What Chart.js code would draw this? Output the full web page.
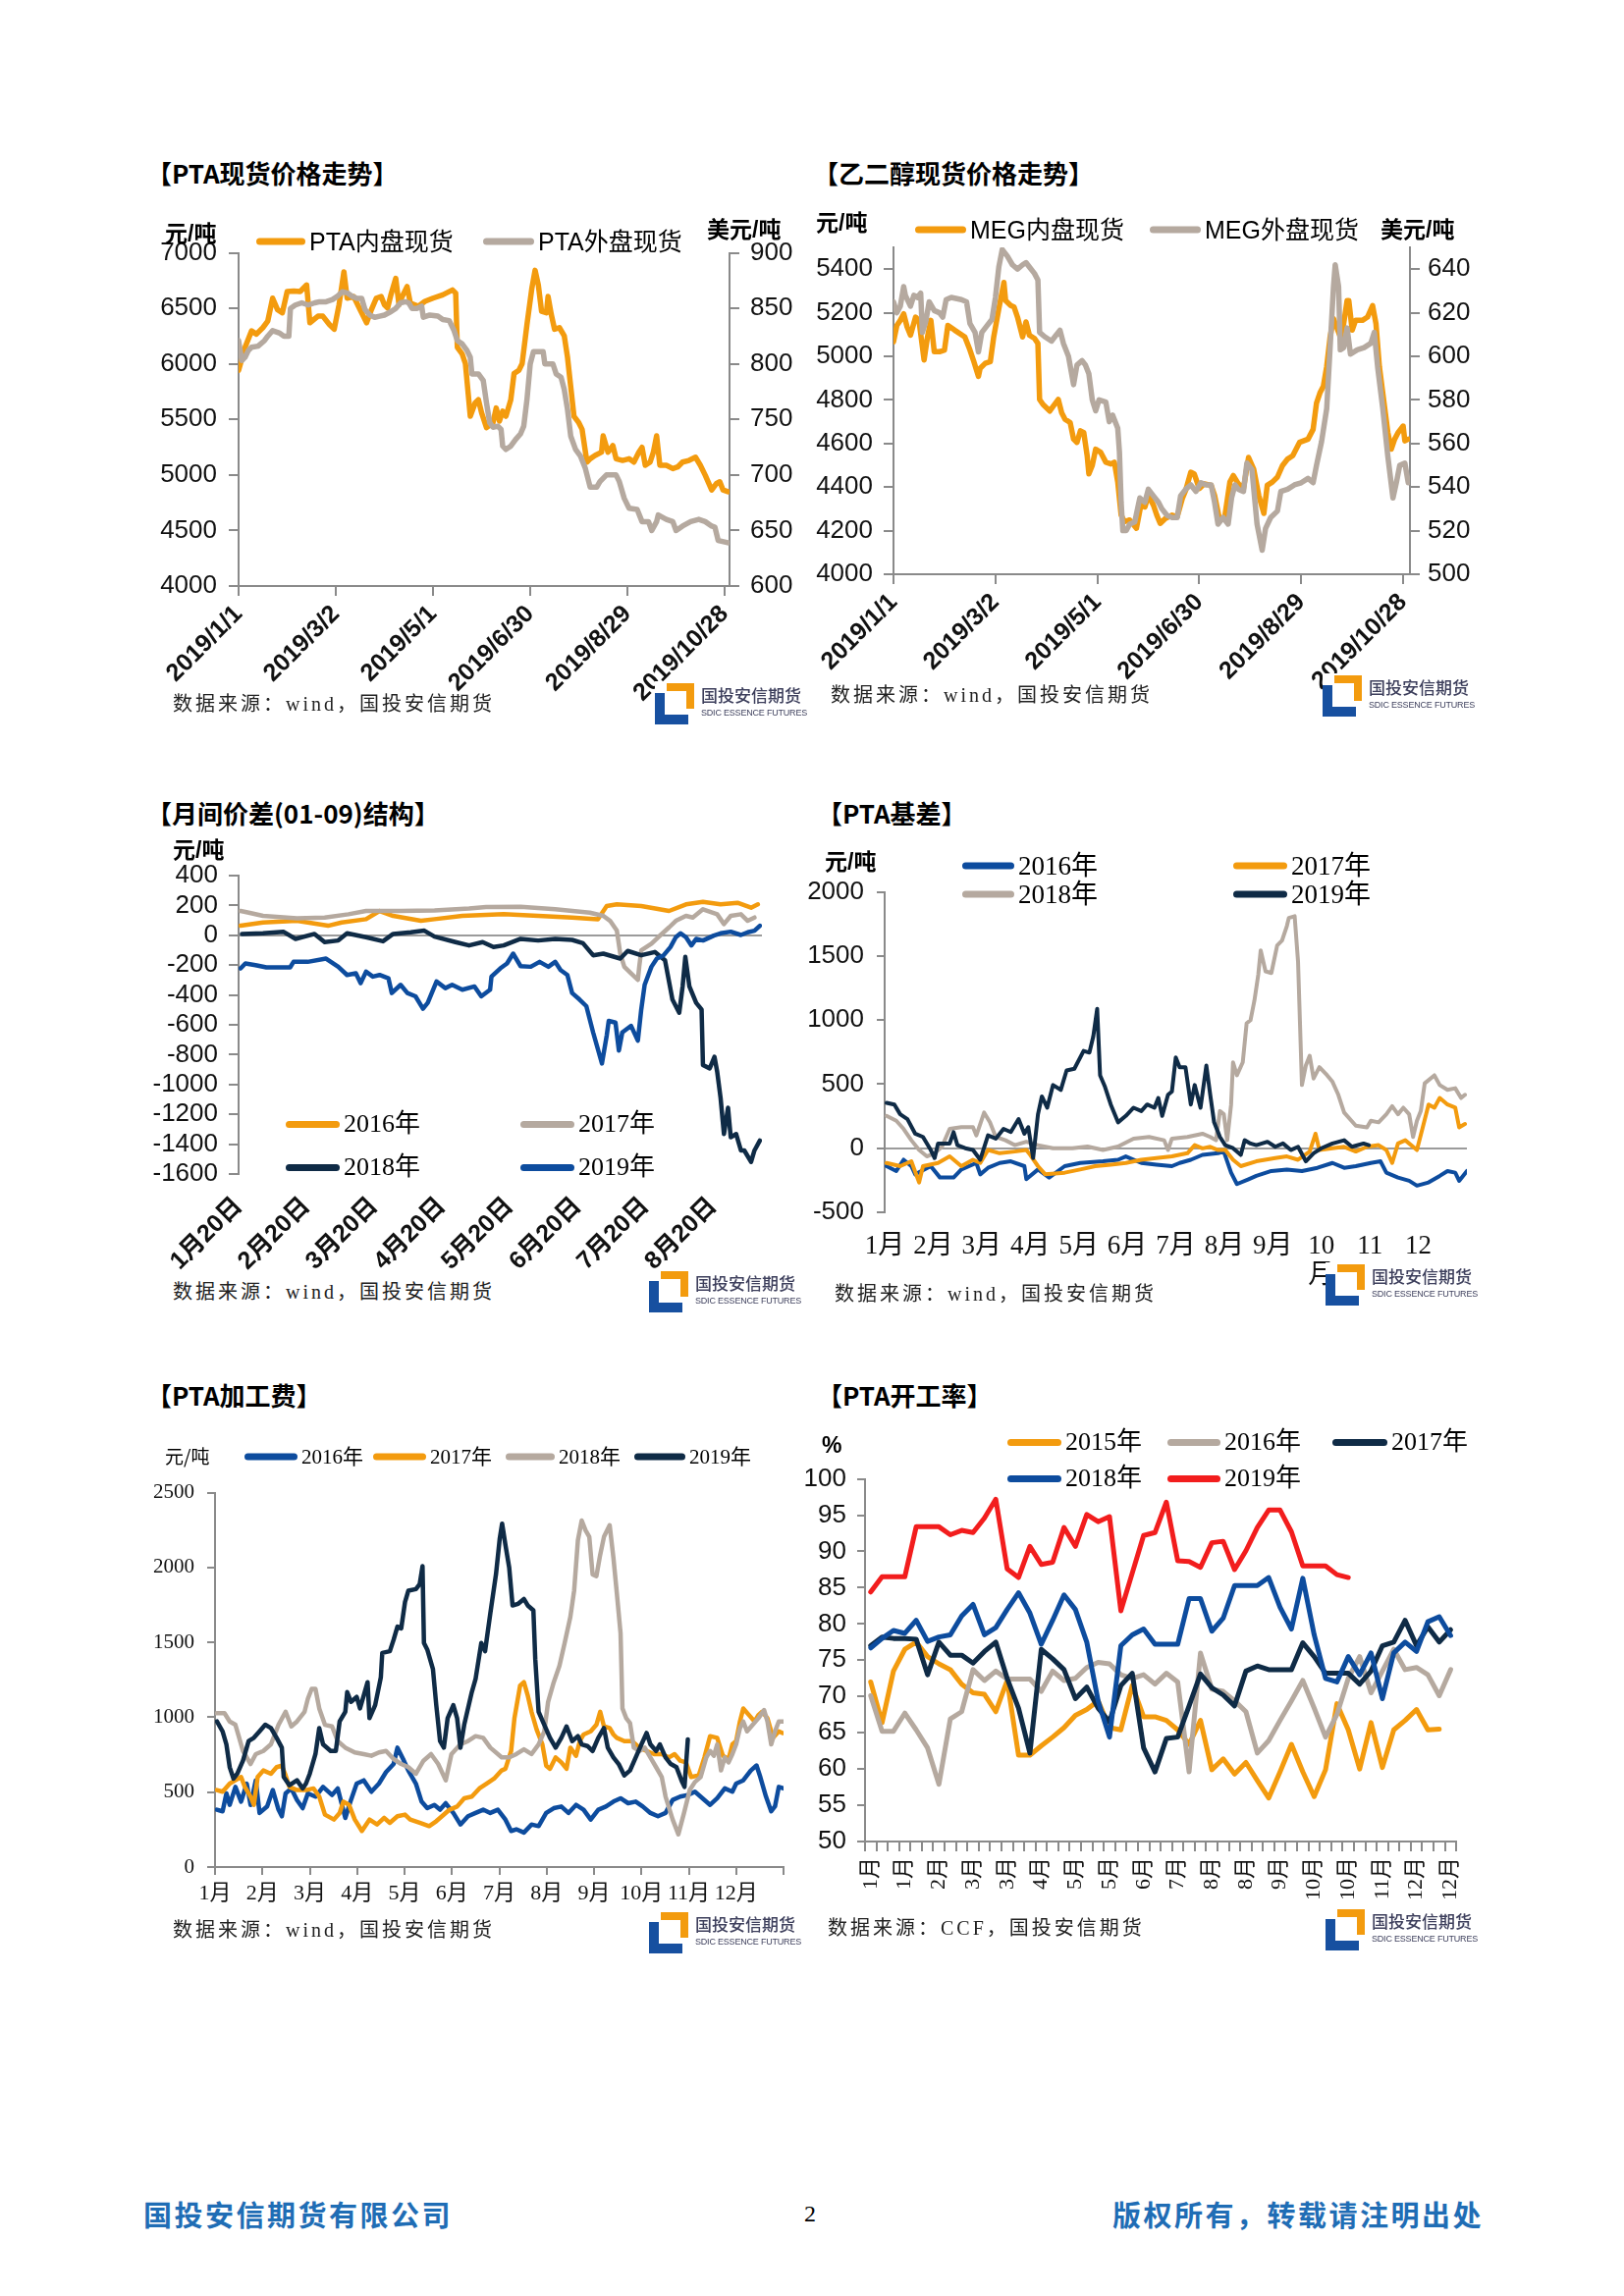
<!DOCTYPE html>
<html><head><meta charset="utf-8">
<script src="https://cdn.jsdelivr.net/npm/chart.js@4.4.1/dist/chart.umd.min.js"></script>
<style>
html,body{margin:0;padding:0;background:#fff;}
#page{position:relative;width:1654px;height:2339px;overflow:hidden;background:#fff;}
canvas{position:absolute;}
.t{position:absolute;white-space:nowrap;line-height:1;transform:translateY(-50%);color:#000;}
.title{font-family:'Noto Sans CJK SC',sans-serif;font-weight:700;font-size:26px;}
.unit{font-family:'Liberation Sans','Noto Sans CJK SC',sans-serif;font-weight:700;font-size:23px;}
.src{font-family:'Liberation Serif','Noto Sans CJK SC',serif;font-size:20px;letter-spacing:3px;color:#222;}
.lg{position:absolute;white-space:nowrap;line-height:1;transform:translateY(-50%);display:flex;align-items:center;color:#000;}
.lg i{display:inline-block;height:7px;border-radius:4px;margin-right:4px;}
.lgs{font-family:'Liberation Sans','Noto Sans CJK SC',sans-serif;font-size:25px;}
.lgr{font-family:'Liberation Serif','Noto Sans CJK SC',serif;}
.logo{position:absolute;width:148px;height:44px;background:#fff;}
.logo .lb{position:absolute;left:0;top:12px;width:24px;height:22px;border-left:10px solid #1750A0;border-bottom:10px solid #1750A0;}
.logo .lo{position:absolute;left:12px;top:2px;width:20px;height:18px;border-top:8px solid #F39B0E;border-right:8px solid #F39B0E;}
.logo .lcn{position:absolute;left:47px;top:5px;font-family:'Noto Sans CJK SC',sans-serif;font-weight:500;font-size:17px;line-height:1;color:#3d3f5c;white-space:nowrap;}
.logo .len{position:absolute;left:47px;top:28px;font-family:'Liberation Sans Narrow','Liberation Sans',sans-serif;font-size:9px;line-height:1;color:#3d3f5c;white-space:nowrap;letter-spacing:-0.2px;}
.foot{font-family:'Noto Sans CJK SC',sans-serif;font-weight:700;font-size:29px;letter-spacing:2.5px;color:#1f6db5;}
</style>
</head>
<body><div id="page">
<canvas id="c1" width="680" height="490" style="left:149px;top:230px"></canvas>
<canvas id="c2" width="672" height="495" style="left:828px;top:225px"></canvas>
<canvas id="c3" width="640" height="435" style="left:149px;top:865px"></canvas>
<canvas id="c4" width="693" height="440" style="left:815px;top:880px"></canvas>
<canvas id="c5" width="660" height="470" style="left:149px;top:1495px"></canvas>
<canvas id="c6" width="700" height="475" style="left:810px;top:1480px"></canvas>

<!-- chart 1 texts -->
<div class="t title" style="left:149px;top:176px">【PTA现货价格走势】</div>
<div class="t unit" style="left:168px;top:238px">元/吨</div>
<div class="t unit" style="left:720px;top:234px">美元/吨</div>
<div class="lg lgs" style="left:261px;top:246px"><i style="width:50px;background:#F39B0E"></i>PTA内盘现货</div>
<div class="lg lgs" style="left:492px;top:246px"><i style="width:52px;background:#B5A99F"></i>PTA外盘现货</div>
<div class="t src" style="left:176px;top:717px">数据来源：wind，国投安信期货</div>
<div class="logo" style="left:667px;top:694px"><div class="lb"></div><div class="lo"></div><div class="lcn">国投安信期货</div><div class="len">SDIC ESSENCE FUTURES</div></div>

<!-- chart 2 texts -->
<div class="t title" style="left:828px;top:176px">【乙二醇现货价格走势】</div>
<div class="t unit" style="left:831px;top:227px">元/吨</div>
<div class="t unit" style="left:1406px;top:234px">美元/吨</div>
<div class="lg lgs" style="left:932px;top:234px"><i style="width:52px;background:#F39B0E"></i>MEG内盘现货</div>
<div class="lg lgs" style="left:1171px;top:234px"><i style="width:52px;background:#B5A99F"></i>MEG外盘现货</div>
<div class="t src" style="left:846px;top:708px">数据来源：wind，国投安信期货</div>
<div class="logo" style="left:1347px;top:686px"><div class="lb"></div><div class="lo"></div><div class="lcn">国投安信期货</div><div class="len">SDIC ESSENCE FUTURES</div></div>

<!-- chart 3 texts -->
<div class="t title" style="left:149px;top:828px">【月间价差(01-09)结构】</div>
<div class="t unit" style="left:176px;top:866px">元/吨</div>
<div class="lg lgr" style="left:291px;top:1145px;font-size:26px"><i style="width:55px;background:#F39B0E"></i>2016年</div>
<div class="lg lgr" style="left:530px;top:1145px;font-size:26px"><i style="width:55px;background:#B5A99F"></i>2017年</div>
<div class="lg lgr" style="left:291px;top:1189px;font-size:26px"><i style="width:55px;background:#0F2B46"></i>2018年</div>
<div class="lg lgr" style="left:530px;top:1189px;font-size:26px"><i style="width:55px;background:#0D4C9E"></i>2019年</div>
<div class="t src" style="left:176px;top:1316px">数据来源：wind，国投安信期货</div>
<div class="logo" style="left:661px;top:1293px"><div class="lb"></div><div class="lo"></div><div class="lcn">国投安信期货</div><div class="len">SDIC ESSENCE FUTURES</div></div>

<!-- chart 4 texts -->
<div class="t title" style="left:832px;top:828px">【PTA基差】</div>
<div class="t unit" style="left:840px;top:878px">元/吨</div>
<div class="lg lgr" style="left:980px;top:882px;font-size:27px"><i style="width:53px;background:#0D4C9E"></i>2016年</div>
<div class="lg lgr" style="left:1256px;top:882px;font-size:27px"><i style="width:55px;background:#F39B0E"></i>2017年</div>
<div class="lg lgr" style="left:980px;top:911px;font-size:27px"><i style="width:53px;background:#B5A99F"></i>2018年</div>
<div class="lg lgr" style="left:1256px;top:911px;font-size:27px"><i style="width:55px;background:#0F2B46"></i>2019年</div>
<div class="t src" style="left:850px;top:1318px">数据来源：wind，国投安信期货</div>
<div class="logo" style="left:1350px;top:1286px"><div class="lb"></div><div class="lo"></div><div class="lcn">国投安信期货</div><div class="len">SDIC ESSENCE FUTURES</div></div>

<!-- chart 5 texts -->
<div class="t title" style="left:149px;top:1421px">【PTA加工费】</div>
<div class="t" style="left:168px;top:1482px;font-family:'Noto Sans CJK SC',sans-serif;font-size:19px">元/吨</div>
<div class="lg lgr" style="left:249px;top:1484px;font-size:21px"><i style="width:54px;background:#0D4C9E"></i>2016年</div>
<div class="lg lgr" style="left:380px;top:1484px;font-size:21px"><i style="width:54px;background:#F39B0E"></i>2017年</div>
<div class="lg lgr" style="left:515px;top:1484px;font-size:21px"><i style="width:50px;background:#B5A99F"></i>2018年</div>
<div class="lg lgr" style="left:646px;top:1484px;font-size:21px"><i style="width:52px;background:#0F2B46"></i>2019年</div>
<div class="t src" style="left:176px;top:1966px">数据来源：wind，国投安信期货</div>
<div class="logo" style="left:661px;top:1946px"><div class="lb"></div><div class="lo"></div><div class="lcn">国投安信期货</div><div class="len">SDIC ESSENCE FUTURES</div></div>

<!-- chart 6 texts -->
<div class="t title" style="left:832px;top:1421px">【PTA开工率】</div>
<div class="t unit" style="left:837px;top:1472px">%</div>
<div class="lg lgr" style="left:1026px;top:1469px;font-size:26px"><i style="width:55px;background:#F39B0E"></i>2015年</div>
<div class="lg lgr" style="left:1189px;top:1469px;font-size:26px"><i style="width:54px;background:#B5A99F"></i>2016年</div>
<div class="lg lgr" style="left:1357px;top:1469px;font-size:26px"><i style="width:56px;background:#0F2B46"></i>2017年</div>
<div class="lg lgr" style="left:1026px;top:1506px;font-size:26px"><i style="width:55px;background:#0D4C9E"></i>2018年</div>
<div class="lg lgr" style="left:1189px;top:1506px;font-size:26px"><i style="width:54px;background:#F21D1D"></i>2019年</div>
<div class="t src" style="left:843px;top:1964px">数据来源：CCF，国投安信期货</div>
<div class="logo" style="left:1350px;top:1943px"><div class="lb"></div><div class="lo"></div><div class="lcn">国投安信期货</div><div class="len">SDIC ESSENCE FUTURES</div></div>

<!-- footer -->
<div class="t foot" style="left:146px;top:2255px">国投安信期货有限公司</div>
<div class="t" style="left:819px;top:2255px;font-family:'Liberation Serif',serif;font-size:24px">2</div>
<div class="t foot" style="right:143px;top:2255px">版权所有，转载请注明出处</div>
</div>
<script>
// ---------- Chart 1: PTA spot price (days since 2019/1/1) ----------
const ptaTickDays = [0,60,120,180,240,300];
const ptaDateLabels = ['2019/1/1','2019/3/2','2019/5/1','2019/6/30','2019/8/29','2019/10/28'];
const ptaDomX = [0,4,8,11,15,18,21,24,27,30,34,38,42,44,49,52,56,59,62,65,67,71,75,79,82,85,88,90,92,94,97,99,101,104,106,111,115,120,126,132,134,135,138,140,143,146,148,150,153,157,159,161,163,165,168,170,173,175,178,181,183,185,187,190,191,193,195,198,201,203,205,207,210,212,215,217,220,224,225,228,231,233,237,241,244,247,249,251,254,256,258,260,264,268,271,274,278,282,285,288,292,295,297,299,302];
const ptaDomY = [5943,6150,6297,6268,6327,6386,6592,6489,6460,6652,6657,6652,6711,6371,6430,6430,6356,6312,6533,6829,6592,6607,6489,6371,6489,6592,6607,6533,6504,6622,6770,6533,6607,6696,6548,6519,6563,6592,6622,6666,6637,6150,6090,6002,5529,5648,5677,5559,5426,5470,5603,5485,5574,5529,5677,5913,5943,6002,6356,6681,6843,6711,6474,6460,6607,6445,6312,6327,6253,6061,5795,5529,5470,5411,5116,5146,5175,5205,5352,5205,5264,5146,5131,5146,5116,5205,5249,5087,5116,5205,5352,5087,5087,5057,5072,5116,5131,5160,5087,4998,4865,4924,4939,4865,4850];
const ptaFgnX = [0,2,4,6,8,12,16,18,21,25,28,31,32,35,39,43,47,50,54,58,61,64,67,70,73,76,78,81,84,87,90,94,97,100,103,105,107,110,113,114,118,123,126,130,133,135,138,141,143,144,148,151,153,155,157,160,162,163,165,168,171,174,176,178,180,182,188,189,194,196,199,201,203,205,208,211,214,217,221,223,227,233,235,238,241,246,249,253,255,258,259,264,268,270,274,279,284,288,292,294,296,302];
const ptaFgnY = [821,803,806,812,815,816,821,825,830,828,825,825,850,853,855,853,855,856,856,858,861,865,864,861,859,859,849,844,842,843,844,847,850,855,856,855,850,850,852,842,844,843,840,839,830,821,818,812,806,791,791,785,765,747,743,744,741,726,723,726,732,737,744,768,800,811,811,800,800,791,788,777,759,735,723,717,706,689,689,694,700,700,694,679,670,669,658,658,650,658,664,660,658,650,654,658,660,658,654,653,641,639];

// ---------- Chart 2: MEG spot price (days since 2019/1/1) ----------
const megTickDays = [0,60,120,180,240,300];
const megDateLabels = ['2019/1/1','2019/3/2','2019/5/1','2019/6/30','2019/8/29','2019/10/28'];
const megDomX = [0,2,4,6,8,10,13,15,17,18,20,22,24,27,30,32,36,42,45,47,50,51,54,57,59,62,65,66,69,71,73,76,78,80,83,85,86,88,92,94,97,99,101,104,106,108,110,112,114,115,117,119,122,125,128,130,132,134,136,139,143,146,148,150,153,155,157,160,164,167,170,172,175,177,180,183,187,189,192,195,198,200,203,206,209,212,215,218,220,223,226,229,232,235,237,239,244,247,249,251,253,255,257,259,263,265,267,268,270,272,276,279,282,284,286,288,291,293,295,297,300,301,303];
const megDomY = [5067,5142,5165,5195,5135,5097,5180,5165,5044,4983,5089,5165,5021,5021,5029,5142,5120,5089,5029,4983,4908,4945,4968,4976,5089,5218,5339,5256,5233,5226,5180,5089,5158,5097,5082,5059,4802,4779,4749,4771,4802,4741,4711,4696,4620,4605,4658,4650,4544,4461,4499,4574,4559,4514,4506,4514,4423,4271,4241,4249,4211,4332,4309,4362,4317,4271,4233,4256,4271,4264,4347,4385,4468,4461,4393,4415,4408,4362,4249,4264,4423,4453,4415,4393,4536,4483,4362,4279,4408,4423,4446,4499,4529,4544,4574,4605,4620,4665,4786,4832,4862,4953,5089,5173,5089,5150,5256,5256,5120,5165,5165,5180,5233,5150,4953,4832,4650,4574,4620,4650,4680,4612,4620];
const megFgnX = [0,2,4,6,7,10,12,14,16,17,19,21,24,27,29,31,34,40,43,45,48,50,52,55,58,60,62,64,67,70,73,76,78,80,83,85,86,89,93,95,98,100,103,106,108,111,113,115,117,119,121,125,127,129,132,133,134,135,137,139,142,145,148,150,153,156,158,161,164,167,169,172,175,178,181,184,187,189,191,194,197,199,201,203,206,208,211,214,217,219,222,226,228,232,236,240,244,247,249,252,255,257,259,260,262,263,265,267,269,273,277,281,283,285,288,291,294,296,298,301,303];
const megFgnY = [625,620,623,632,628,623,628,627,629,611,616,625,621,620,618,626,627,626,625,615,611,602,611,614,617,627,641,649,646,642,640,642,643,641,638,635,611,609,607,609,612,606,600,587,596,598,596,592,580,575,580,579,570,573,567,556,533,520,520,523,524,535,533,539,536,533,530,527,526,526,536,539,541,538,542,541,541,533,523,526,523,535,541,539,538,551,548,523,511,521,526,529,538,539,541,542,544,542,550,561,576,604,632,642,632,603,604,613,601,603,604,606,611,595,576,554,535,542,550,551,542];

// ---------- Chart 3: 01-09 spread (months after 1/20) ----------
const spTickMonths = [0,1,2,3,4,5,6,7];
const spMonthLabels = ['1月20日','2月20日','3月20日','4月20日','5月20日','6月20日','7月20日','8月20日'];
const sp16X = [0.03,0.36,0.86,1.32,1.52,1.88,2.08,2.28,2.69,2.89,3.30,3.91,4.42,4.92,5.30,5.43,5.58,5.94,6.35,6.60,6.85,7.11,7.36,7.56,7.66];
const sp16Y = [64,86,97,64,86,108,163,130,97,108,130,141,130,119,108,196,207,196,163,207,224,207,218,185,207];
const sp17X = [0.03,0.15,0.36,0.86,1.27,1.62,1.88,2.39,2.89,3.40,3.65,4.16,4.67,5.18,5.38,5.48,5.58,5.63,5.69,5.79,5.89,5.91,5.94,6.09,6.19,6.35,6.45,6.60,6.70,6.85,7.06,7.16,7.26,7.41,7.51,7.61];
const sp17Y = [163,152,130,114,119,141,163,163,167,180,189,191,174,152,130,97,31,-123,-211,-255,-299,-211,-101,-57,-13,53,97,130,119,174,141,75,130,141,97,119];
const sp18X = [0.05,0.36,0.66,0.84,1.12,1.27,1.47,1.60,1.88,2.13,2.28,2.54,2.74,2.89,3.20,3.40,3.60,3.76,3.91,4.16,4.42,4.67,4.92,5.08,5.23,5.38,5.63,5.74,5.94,6.14,6.29,6.40,6.50,6.55,6.59,6.65,6.75,6.83,6.85,6.95,7.02,7.06,7.11,7.16,7.22,7.26,7.34,7.41,7.46,7.56,7.61,7.69];
const sp18Y = [9,13,24,-24,9,-46,-35,13,-13,-40,9,20,31,-9,-46,-68,-46,-79,-68,-24,-35,-24,-31,-53,-134,-123,-156,-105,-134,-112,-167,-431,-519,-343,-145,-343,-453,-497,-870,-892,-815,-914,-1090,-1332,-1156,-1354,-1332,-1442,-1442,-1519,-1442,-1376];
const sp19X = [0.03,0.10,0.25,0.41,0.76,0.81,1.02,1.29,1.47,1.60,1.73,1.80,1.88,1.98,2.08,2.21,2.26,2.39,2.49,2.61,2.72,2.79,2.92,3.05,3.15,3.30,3.48,3.58,3.71,3.73,3.86,3.96,4.05,4.16,4.31,4.44,4.57,4.67,4.75,4.85,4.92,5.03,5.13,5.23,5.36,5.43,5.46,5.56,5.61,5.66,5.79,5.89,5.94,5.99,6.09,6.17,6.27,6.37,6.45,6.52,6.60,6.68,6.75,6.85,7.01,7.11,7.26,7.41,7.51,7.61,7.69];
const sp19Y = [-222,-189,-200,-215,-215,-178,-178,-156,-211,-266,-255,-321,-244,-277,-266,-288,-387,-332,-387,-409,-492,-453,-310,-354,-332,-365,-343,-409,-365,-277,-222,-189,-123,-207,-211,-178,-211,-178,-233,-266,-387,-431,-475,-651,-859,-673,-574,-585,-772,-651,-607,-706,-497,-332,-211,-156,-134,-79,-13,13,-13,-68,-24,-35,-2,13,24,2,20,31,64];

// ---------- Chart 4: PTA basis (months since Jan 1) ----------
const bsTickMonths = [0,1,2,3,4,5,6,7,8,9,10,11];
const bsMonthLabels = ['1月','2月','3月','4月','5月','6月','7月','8月','9月',['10','月'],'11','12'];
const bs16X = [0.04,0.24,0.39,0.55,0.63,0.95,1.14,1.42,1.58,1.89,1.97,2.13,2.37,2.60,2.88,2.92,3.16,3.39,3.71,4.03,4.50,4.81,4.97,5.29,5.60,5.92,6.08,6.31,6.55,6.87,6.99,7.14,7.26,7.50,7.66,7.97,8.29,8.60,8.92,9.23,9.47,9.71,10.02,10.22,10.34,10.58,10.81,10.97,11.21,11.44,11.60,11.76,11.84,12.0];
const bs16Y = [-140,-178,-90,-140,-204,-140,-229,-229,-166,-115,-204,-153,-115,-102,-140,-242,-166,-229,-140,-115,-102,-90,-64,-115,-128,-140,-115,-90,-52,-39,-26,-191,-280,-242,-216,-178,-166,-178,-153,-115,-153,-140,-115,-102,-191,-229,-254,-292,-267,-216,-178,-191,-254,-178];
const bs17X = [0.04,0.32,0.55,0.71,0.79,1.10,1.34,1.58,1.82,1.97,2.13,2.37,2.68,2.92,3.00,3.16,3.31,3.71,4.03,4.34,4.66,4.97,5.29,5.60,5.92,6.24,6.39,6.55,6.71,6.87,7.02,7.18,7.34,7.66,8.05,8.29,8.52,8.76,8.88,8.96,9.23,9.47,9.71,9.94,10.18,10.34,10.46,10.58,10.73,10.97,11.09,11.21,11.33,11.44,11.60,11.76,11.84,11.96];
const bs17Y = [-115,-140,-102,-267,-140,-115,-64,-140,-90,-115,-14,-39,-26,-14,-52,-140,-204,-191,-166,-140,-128,-115,-90,-77,-64,-39,24,-1,11,-14,-14,-90,-140,-102,-77,-64,-90,-26,113,-14,-1,11,-26,11,24,-14,-115,37,62,-14,163,341,316,392,341,316,163,189];
const bs18X = [0.04,0.24,0.39,0.55,0.71,0.87,1.03,1.18,1.34,1.58,1.82,1.89,2.05,2.17,2.29,2.49,2.68,2.92,3.16,3.47,3.87,4.18,4.50,4.81,5.13,5.45,5.76,5.84,5.92,6.24,6.55,6.71,6.83,6.91,6.99,7.06,7.14,7.18,7.26,7.38,7.46,7.54,7.62,7.70,7.75,7.85,7.97,8.09,8.19,8.29,8.33,8.45,8.52,8.60,8.68,8.76,8.84,8.96,9.12,9.23,9.35,9.47,9.71,9.94,10.02,10.18,10.34,10.46,10.58,10.69,10.81,10.89,10.97,11.05,11.13,11.33,11.44,11.60,11.76,11.88,11.96];
const bs18Y = [252,214,151,62,-14,-64,-39,11,151,164,164,100,278,202,88,62,24,50,24,0,0,13,-14,13,75,88,62,-14,75,88,113,88,62,290,265,62,341,670,569,670,974,999,1151,1354,1544,1380,1367,1582,1620,1734,1797,1810,1455,493,645,721,544,632,569,518,417,278,176,163,214,202,265,328,265,316,265,88,214,290,506,569,493,455,468,392,417];
const bs19X = [0.04,0.20,0.32,0.47,0.63,0.79,0.95,1.03,1.10,1.34,1.42,1.50,1.66,1.82,1.97,2.13,2.29,2.45,2.60,2.76,2.88,2.96,3.06,3.16,3.24,3.35,3.47,3.63,3.75,3.91,4.10,4.22,4.30,4.38,4.44,4.54,4.66,4.81,4.97,5.13,5.29,5.41,5.56,5.64,5.72,5.84,5.92,6.00,6.08,6.20,6.31,6.39,6.51,6.63,6.71,6.79,6.91,7.02,7.18,7.34,7.42,7.54,7.66,7.89,8.05,8.21,8.37,8.52,8.68,8.84,9.00,9.23,9.47,9.63,9.87,9.98];
const bs19Y = [354,341,265,227,113,88,-14,-77,37,37,126,24,0,-14,-90,100,75,151,126,227,113,164,-77,265,404,316,493,455,607,620,759,746,873,1088,569,480,341,202,252,316,290,341,316,392,252,417,442,708,632,632,341,493,316,645,417,202,88,24,0,-52,62,37,24,50,11,37,-14,11,-102,-39,0,37,62,11,37,24];

// ---------- Chart 5: PTA processing fee (months since Jan 1) ----------
const pfTickMonths = [0,1,2,3,4,5,6,7,8,9,10,11,12];
const pfMonthLabels = ['1月','2月','3月','4月','5月','6月','7月','8月','9月','10月','11月','12月',''];
const pf16X = [0.04,0.16,0.24,0.31,0.43,0.55,0.67,0.75,0.86,0.94,1.10,1.22,1.34,1.41,1.49,1.61,1.73,1.85,1.96,2.12,2.28,2.47,2.59,2.75,2.87,2.99,3.14,3.30,3.46,3.61,3.77,3.85,3.97,4.08,4.24,4.36,4.48,4.63,4.75,4.87,5.03,5.18,5.34,5.50,5.66,5.81,5.97,6.13,6.25,6.36,6.52,6.68,6.83,6.99,7.15,7.31,7.46,7.62,7.78,7.93,8.09,8.25,8.41,8.56,8.72,8.88,9.03,9.19,9.35,9.51,9.66,9.82,9.98,10.13,10.29,10.45,10.60,10.76,10.92,11.00,11.15,11.31,11.43,11.51,11.63,11.74,11.82,11.90,12.0];
const pf16Y = [383,372,492,415,535,437,557,415,579,361,405,514,383,339,492,525,448,393,492,470,535,481,525,328,448,557,579,503,557,634,688,797,721,645,557,437,393,415,383,426,361,284,339,361,383,361,383,317,241,252,230,284,273,361,393,404,361,415,383,317,383,404,437,459,426,437,404,361,339,361,448,470,481,503,459,415,459,525,503,557,579,645,678,601,470,372,405,535,525];
const pf17X = [0.04,0.16,0.31,0.43,0.55,0.63,0.75,0.82,0.90,1.02,1.18,1.30,1.41,1.49,1.57,1.73,1.92,2.08,2.20,2.32,2.51,2.63,2.71,2.83,2.95,3.10,3.26,3.42,3.57,3.69,3.85,4.01,4.12,4.32,4.52,4.67,4.79,4.95,5.11,5.26,5.42,5.58,5.73,5.89,6.05,6.13,6.25,6.32,6.44,6.52,6.60,6.68,6.79,6.91,6.99,7.07,7.19,7.31,7.42,7.50,7.62,7.70,7.78,7.93,8.05,8.13,8.21,8.33,8.41,8.48,8.64,8.80,8.96,9.11,9.27,9.43,9.58,9.70,9.82,9.94,10.05,10.21,10.33,10.45,10.60,10.72,10.84,10.92,11.00,11.08,11.15,11.27,11.39,11.47,11.55,11.66,11.78,11.90,11.98];
const pf17Y = [514,503,557,579,601,535,470,415,601,645,623,667,677,612,535,514,514,525,470,350,317,361,437,415,317,241,317,284,328,295,339,350,317,295,273,306,339,383,404,459,470,525,557,590,645,656,775,994,1212,1234,1147,1037,917,819,677,656,732,699,656,797,743,841,885,906,950,1037,939,928,885,863,841,841,797,775,754,754,732,754,710,699,601,612,732,874,863,743,721,819,841,972,1059,1015,972,1015,1037,994,863,906,895];
const pf18X = [0.04,0.20,0.31,0.43,0.51,0.59,0.67,0.75,0.86,1.02,1.18,1.34,1.49,1.61,1.73,1.89,1.96,2.04,2.12,2.20,2.32,2.47,2.59,2.75,2.95,3.14,3.30,3.46,3.61,3.77,3.93,4.08,4.24,4.40,4.56,4.71,4.87,4.99,5.18,5.34,5.50,5.66,5.81,6.05,6.21,6.36,6.52,6.68,6.83,6.95,7.03,7.15,7.27,7.38,7.50,7.58,7.66,7.74,7.82,7.90,7.97,8.05,8.13,8.21,8.33,8.41,8.48,8.56,8.60,8.68,8.76,8.84,8.96,9.07,9.19,9.31,9.43,9.51,9.66,9.78,9.90,10.02,10.13,10.25,10.37,10.45,10.53,10.60,10.68,10.76,10.84,10.92,11.00,11.08,11.15,11.23,11.35,11.47,11.59,11.66,11.74,11.82,11.90,12.0];
const pf18Y = [1027,1027,972,950,863,775,732,688,754,775,819,950,1037,939,972,1037,1124,1190,1190,1059,950,939,841,797,765,754,743,765,775,721,688,667,623,710,754,688,579,754,819,841,874,863,797,732,732,754,786,754,819,906,1102,1234,1343,1496,1670,1845,2183,2314,2249,2205,1954,1943,2085,2205,2282,2063,1834,1561,1059,994,961,797,775,797,732,667,601,470,317,219,361,514,568,601,732,775,743,819,645,732,699,754,819,928,972,906,950,994,1048,972,819,906,972,972];
const pf19X = [0.04,0.16,0.24,0.31,0.39,0.47,0.59,0.71,0.82,0.94,1.06,1.18,1.30,1.41,1.45,1.57,1.73,1.85,1.92,2.00,2.12,2.20,2.28,2.44,2.55,2.63,2.75,2.79,2.87,2.99,3.06,3.14,3.22,3.26,3.38,3.50,3.53,3.69,3.77,3.85,3.93,4.01,4.08,4.24,4.32,4.38,4.41,4.48,4.60,4.67,4.75,4.83,4.91,5.03,5.11,5.18,5.26,5.42,5.50,5.62,5.70,5.81,5.93,6.01,6.06,6.13,6.21,6.28,6.40,6.52,6.60,6.72,6.76,6.83,6.95,7.07,7.19,7.31,7.42,7.54,7.66,7.74,7.86,7.97,8.09,8.21,8.29,8.41,8.52,8.64,8.76,8.88,9.00,9.11,9.19,9.31,9.39,9.51,9.62,9.74,9.86,9.91,9.98];
const pf19Y = [972,906,819,666,590,623,710,841,863,906,950,928,863,797,601,546,579,525,557,623,754,928,819,775,775,972,1037,1168,1103,1136,1059,1147,1234,994,1081,1267,1430,1441,1518,1605,1594,1769,1845,1856,1889,2009,1496,1452,1321,1081,841,797,994,1081,994,797,950,1168,1256,1496,1441,1692,1954,2194,2293,2151,1998,1747,1758,1790,1747,1714,1387,1037,950,863,797,863,939,841,874,819,808,775,863,928,797,732,688,612,645,732,819,895,819,775,819,732,688,667,568,535,852];

// ---------- Chart 6: PTA operating rate (weekly) ----------
const weekLabels = ['1月','1月','1月','1月','2月','2月','2月','2月','3月','3月','3月','3月','3月','4月','4月','4月','4月','5月','5月','5月','5月','5月','6月','6月','6月','6月','7月','7月','7月','7月','8月','8月','8月','8月','9月','9月','9月','9月','10月','10月','10月','10月','10月','11月','11月','11月','11月','12月','12月','12月','12月','12月'];
const op2015 = [72.0,66.4,73.5,76.5,77.5,75.5,74.5,73.7,71.7,70.5,70.3,67.9,72.2,61.9,61.9,63.2,64.4,65.7,67.4,68.2,69.4,65.7,65.4,71.5,67.2,67.2,66.7,65.4,63.4,66.7,59.9,61.4,59.3,60.9,58.4,56.0,59.6,63.4,59.6,56.2,59.9,69.0,65.4,60.0,66.4,60.2,65.4,66.7,68.2,65.4,65.5];
const op2016 = [70.1,65.2,65.2,67.7,65.4,62.9,57.9,66.9,67.9,73.7,72.2,73.5,72.4,72.4,72.4,70.7,73.5,72.2,72.5,74.0,74.7,74.5,73.0,72.5,73.0,71.7,73.2,72.0,59.6,76.0,71.0,70.7,69.4,67.9,62.2,63.9,66.7,69.4,72.2,68.4,64.4,67.5,72.5,75.5,70.5,73.5,76.5,73.7,74.0,73.0,70.1,73.7];
const op2017 = [77.0,78.2,78.0,78.0,77.9,73.0,77.5,75.7,75.7,74.6,76.2,77.5,72.5,68.4,62.2,76.5,75.2,73.7,69.7,71.3,68.4,66.5,71.5,73.2,62.9,59.6,64.2,64.4,68.7,73.1,71.2,70.2,68.7,73.5,74.2,73.7,73.7,73.7,77.4,75.5,73.2,73.2,73.2,71.7,73.5,77.0,77.5,80.5,77.0,79.6,77.5,79.2];
const op2018 = [76.7,78.0,79.1,78.7,80.5,77.6,78.2,78.5,81.1,82.7,78.5,79.5,82.0,84.3,81.5,77.2,80.5,84.0,82.0,77.5,69.4,64.4,77.0,78.5,79.3,77.2,77.2,77.2,83.5,83.5,79.0,80.8,85.3,85.3,85.3,86.4,82.3,79.3,86.3,78.5,72.5,72.0,75.5,73.0,76.0,69.7,76.0,77.5,76.2,80.3,81.0,78.4];
const op2019 = [84.4,86.5,86.5,86.5,93.4,93.4,93.4,92.3,92.9,92.6,94.6,97.2,87.6,86.4,90.7,88.2,88.5,93.3,90.7,95.1,94.1,94.8,81.8,87.0,92.2,92.6,96.8,88.7,88.6,87.8,91.2,91.4,87.5,90.1,93.3,95.7,95.7,92.7,88.0,88.0,88.0,86.8,86.4];

// ---------- shared styling ----------
const SANS = "'Liberation Sans','Noto Sans CJK SC',sans-serif";
const SERIF = "'Liberation Serif','Noto Sans CJK SC',serif";
const AXIS = '#8a8a8a';
const TXT = '#111';
const COL = {orange:'#F39B0E', gray:'#B5A99F', navy:'#0F2B46', blue:'#0D4C9E', red:'#F21D1D'};
const plain = v => String(v);

function xy(xs, ys){ return xs.map((x,i)=>({x:x, y:ys[i]})); }
function ds(label, data, color, width, order, axis){
  const d = {label:label, data:data, borderColor:color, backgroundColor:color, borderWidth:width,
    pointRadius:0, pointHoverRadius:0, tension:0, borderJoinStyle:'round', borderCapStyle:'round', fill:false, order:order};
  if (axis) d.yAxisID = axis;
  return d;
}
function setTicks(vals){ return s => { s.ticks = vals.map(v => ({value:v})); }; }
function fixW(w){ return s => { s.width = w; }; }
function fixH(h){ return s => { s.height = h; }; }
function axGrid(len, onArea){ return {display:true, drawOnChartArea:!!onArea, drawTicks:true, tickLength:len, color:AXIS, tickColor:AXIS, lineWidth:2, tickWidth:2}; }
const BORDER = {display:true, color:AXIS, width:2};
const NOBORDER = {display:false};
function baseOpts(pad, scales){
  return {responsive:false, animation:false, devicePixelRatio:1,
    layout:{padding:pad},
    plugins:{legend:{display:false}, tooltip:{enabled:false}, title:{display:false}},
    scales:scales};
}
function zeroGrid(len){
  return {display:true, drawOnChartArea:true, drawTicks:true, tickLength:len,
    color: c => (c.tick && c.tick.value === 0) ? '#9b9b9b' : 'rgba(0,0,0,0)',
    tickColor:AXIS, lineWidth:2, tickWidth:2};
}
function yTicks(step, pad, family, size, extra){
  return Object.assign({stepSize:step, padding:pad, autoSkip:false, color:TXT, font:{family:family,size:size}, callback:plain}, extra || {});
}

// Chart 1
new Chart(document.getElementById('c1'), {
  type:'line',
  data:{datasets:[
    ds('PTA内盘现货', xy(ptaDomX, ptaDomY), COL.orange, 5.5, 2, 'y'),
    ds('PTA外盘现货', xy(ptaFgnX, ptaFgnY), COL.gray, 5.5, 1, 'y2')
  ]},
  options: baseOpts({top:27,left:0,right:0,bottom:0}, {
    x:{type:'linear', min:0, max:303, afterBuildTicks:setTicks(ptaTickDays), afterFit:fixH(123),
       ticks:{autoSkip:false, minRotation:45, maxRotation:45, padding:4, color:TXT, font:{family:SANS,size:25,weight:'bold'}, callback:(v,i)=>ptaDateLabels[i]},
       grid:axGrid(10,false), border:BORDER},
    y:{type:'linear', position:'left', min:4000, max:7000, afterFit:fixW(94),
       ticks:yTicks(500, 12, SANS, 26), grid:axGrid(10,false), border:BORDER},
    y2:{type:'linear', position:'right', min:600, max:900, afterFit:fixW(86),
       ticks:yTicks(50, 11, SANS, 26), grid:axGrid(10,false), border:BORDER}
  })
});

// Chart 2
new Chart(document.getElementById('c2'), {
  type:'line',
  data:{datasets:[
    ds('MEG内盘现货', xy(megDomX, megDomY), COL.orange, 5.5, 2, 'y'),
    ds('MEG外盘现货', xy(megFgnX, megFgnY), COL.gray, 5.5, 1, 'y2')
  ]},
  options: baseOpts({top:27,left:0,right:0,bottom:0}, {
    x:{type:'linear', min:0, max:304, afterBuildTicks:setTicks(megTickDays), afterFit:fixH(135),
       ticks:{autoSkip:false, minRotation:45, maxRotation:45, padding:4, color:TXT, font:{family:SANS,size:25,weight:'bold'}, callback:(v,i)=>megDateLabels[i]},
       grid:axGrid(10,false), border:BORDER},
    y:{type:'linear', position:'left', min:4000, max:5500, afterFit:fixW(82),
       ticks:yTicks(200, 11, SANS, 26, {includeBounds:false}), grid:axGrid(10,false), border:BORDER},
    y2:{type:'linear', position:'right', min:500, max:650, afterFit:fixW(64),
       ticks:yTicks(20, 8, SANS, 26, {includeBounds:false}), grid:axGrid(10,false), border:BORDER}
  })
});

// Chart 3
new Chart(document.getElementById('c3'), {
  type:'line',
  data:{datasets:[
    ds('2016年', xy(sp16X, sp16Y), COL.orange, 4.5, 4),
    ds('2017年', xy(sp17X, sp17Y), COL.gray, 4.5, 3),
    ds('2018年', xy(sp18X, sp18Y), COL.navy, 4.5, 2),
    ds('2019年', xy(sp19X, sp19Y), COL.blue, 4.5, 1)
  ]},
  options: baseOpts({top:27,left:0,right:13,bottom:0}, {
    x:{type:'linear', min:0, max:7.72, afterBuildTicks:setTicks(spTickMonths), afterFit:fixH(104),
       ticks:{autoSkip:false, minRotation:45, maxRotation:45, padding:18, color:TXT, font:{family:SANS,size:25,weight:'bold'}, callback:(v,i)=>spMonthLabels[i]},
       grid:{display:false, drawTicks:false}, border:NOBORDER},
    y:{type:'linear', min:-1600, max:400, afterFit:fixW(94),
       ticks:yTicks(200, 11, SANS, 26), grid:zeroGrid(10), border:BORDER}
  })
});

// Chart 4
new Chart(document.getElementById('c4'), {
  type:'line',
  data:{datasets:[
    ds('2016年', xy(bs16X, bs16Y), COL.blue, 4, 4),
    ds('2017年', xy(bs17X, bs17Y), COL.orange, 4, 3),
    ds('2018年', xy(bs18X, bs18Y), COL.gray, 4, 2),
    ds('2019年', xy(bs19X, bs19Y), COL.navy, 4, 1)
  ]},
  options: baseOpts({top:27,left:0,right:14,bottom:0}, {
    x:{type:'linear', min:0, max:12, afterBuildTicks:setTicks(bsTickMonths), afterFit:fixH(85),
       ticks:{autoSkip:false, minRotation:0, maxRotation:0, padding:20, color:TXT, font:{family:SERIF,size:27,lineHeight:1.1}, callback:(v,i)=>bsMonthLabels[i]},
       grid:{display:false, drawTicks:false}, border:NOBORDER},
    y:{type:'linear', min:-500, max:2000, afterFit:fixW(86),
       ticks:yTicks(500, 13, SANS, 26), grid:zeroGrid(8), border:BORDER}
  })
});

// Chart 5
new Chart(document.getElementById('c5'), {
  type:'line',
  data:{datasets:[
    ds('2016年', xy(pf16X, pf16Y), COL.blue, 4.5, 4),
    ds('2017年', xy(pf17X, pf17Y), COL.orange, 4.5, 3),
    ds('2018年', xy(pf18X, pf18Y), COL.gray, 4.5, 2),
    ds('2019年', xy(pf19X, pf19Y), COL.navy, 4.5, 1)
  ]},
  options: baseOpts({top:23,left:0,right:11,bottom:0}, {
    x:{type:'linear', min:0, max:12, afterBuildTicks:setTicks(pfTickMonths), afterFit:fixH(63),
       ticks:{autoSkip:false, minRotation:0, maxRotation:0, padding:6, color:TXT, font:{family:SERIF,size:22}, callback:(v,i)=>pfMonthLabels[i]},
       grid:axGrid(8,false), border:BORDER},
    y:{type:'linear', min:0, max:2500, afterFit:fixW(70),
       ticks:yTicks(500, 13, SERIF, 21), grid:axGrid(8,false), border:BORDER}
  })
});

// Chart 6
new Chart(document.getElementById('c6'), {
  type:'line',
  data:{labels:weekLabels, datasets:[
    ds('2015年', op2015, COL.orange, 5, 5),
    ds('2016年', op2016, COL.gray, 5, 4),
    ds('2017年', op2017, COL.navy, 5, 3),
    ds('2018年', op2018, COL.blue, 5, 2),
    ds('2019年', op2019, COL.red, 5, 1)
  ]},
  options: baseOpts({top:23,left:0,right:19,bottom:0}, {
    x:{type:'category', offset:true, afterFit:fixH(79),
       ticks:{autoSkip:false, minRotation:90, maxRotation:90, padding:6, color:TXT, font:{family:SERIF,size:22},
              callback:(v,i)=> (i % 3 === 0) ? weekLabels[i] : ''},
       grid:{display:true, offset:true, drawOnChartArea:false, drawTicks:true, tickLength:10, color:AXIS, tickColor:AXIS, lineWidth:2, tickWidth:2},
       border:BORDER},
    y:{type:'linear', min:50, max:100, afterFit:fixW(71),
       ticks:yTicks(5, 11, SANS, 26), grid:axGrid(8,false), border:BORDER}
  })
});
</script>
</body></html>
